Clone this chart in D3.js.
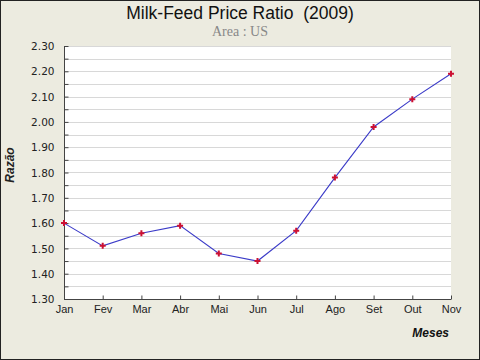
<!DOCTYPE html>
<html><head><meta charset="utf-8">
<script src="https://cdn.jsdelivr.net/npm/d3@7"></script>
<style>body{margin:0;background:#fff}svg{display:block}</style>
</head><body>
<script>
const months = ["Jan","Fev","Mar","Abr","Mai","Jun","Jul","Ago","Set","Out","Nov"];
const ratio = [1.60,1.51,1.56,1.59,1.48,1.45,1.57,1.78,1.98,2.09,2.19];
const yTicks = [1.30,1.40,1.50,1.60,1.70,1.80,1.90,2.00,2.10,2.20,2.30];
const yMinor = d3.range(1.30,2.3001,0.05);

const W=480,H=360, L=64,R=451,T=46,B=299;
const svg=d3.select("body").append("svg").attr("width",W).attr("height",H);
svg.append("rect").attr("x",0.5).attr("y",0.5).attr("width",W-1).attr("height",H-1)
  .attr("fill","#ECEBE0").attr("stroke","#222");
svg.append("rect").attr("x",L).attr("y",T).attr("width",R-L).attr("height",B-T).attr("fill","#fff");

const x=d3.scalePoint().domain(months).range([L,R]);
const y=d3.scaleLinear().domain([1.30,2.30]).range([B,T]);

svg.append("g").selectAll("line").data(yMinor).join("line")
  .attr("x1",L).attr("x2",R).attr("y1",d=>Math.round(y(d))+0.5).attr("y2",d=>Math.round(y(d))+0.5)
  .attr("stroke","#d8d8d8");

// y axis
const ya=svg.append("g").attr("transform",`translate(${L+0.5},0)`)
  .call(d3.axisLeft(y).tickValues(yMinor).tickSize(-4).tickFormat(d=>yTicks.some(t=>Math.abs(t-d)<1e-6)?d3.format(".2f")(d):"").tickPadding(10));
ya.select(".domain").attr("stroke","#444").attr("d",`M0,${T}V${B+0.5}`);
ya.selectAll(".tick line").attr("stroke","#444");
ya.selectAll("text").attr("font-family","Verdana, DejaVu Sans, sans-serif").attr("font-size",10.5).attr("fill","#222").attr("dy","0.35em");

// x axis
const xa=svg.append("g").attr("transform",`translate(0,${B+0.5})`)
  .call(d3.axisBottom(x).tickSize(-4).tickPadding(6));
xa.select(".domain").attr("stroke","#444").attr("d",`M${L},0H${R}`);
xa.selectAll(".tick line").attr("stroke","#444");
xa.selectAll("text").attr("font-family","Liberation Sans, Arial, sans-serif").attr("font-size",11).attr("fill","#222");

const line=d3.line().x((d,i)=>x(months[i])).y(d=>y(d));
svg.append("path").datum(ratio).attr("d",line).attr("fill","none").attr("stroke","#3b3bc8").attr("stroke-width",1.1);
svg.append("g").selectAll("path").data(ratio).join("path")
  .attr("transform",(d,i)=>`translate(${x(months[i])},${y(d)})`)
  .attr("d",d3.symbol(d3.symbolCross,20)).attr("fill","#cc1133");

svg.append("text").attr("x",240).attr("y",19).attr("text-anchor","middle")
  .attr("font-family","Liberation Sans, Arial, sans-serif").attr("font-size",17.5).attr("fill","#111")
  .attr("xml:space","preserve").text("Milk-Feed Price Ratio  (2009)");
svg.append("text").attr("x",240).attr("y",36).attr("text-anchor","middle")
  .attr("font-family","Liberation Serif, Times New Roman, serif").attr("font-size",14).attr("fill","#888")
  .text("Area : US");
svg.append("text").attr("transform","translate(14,165) rotate(-90)").attr("text-anchor","middle")
  .attr("font-family","Liberation Sans, Arial, sans-serif").attr("font-size",12).attr("font-weight","bold").attr("font-style","italic").attr("fill","#222")
  .text("Razão");
svg.append("text").attr("x",449).attr("y",337).attr("text-anchor","end")
  .attr("font-family","Liberation Sans, Arial, sans-serif").attr("font-size",12).attr("font-weight","bold").attr("font-style","italic").attr("fill","#111")
  .text("Meses");
</script>
</body></html>
